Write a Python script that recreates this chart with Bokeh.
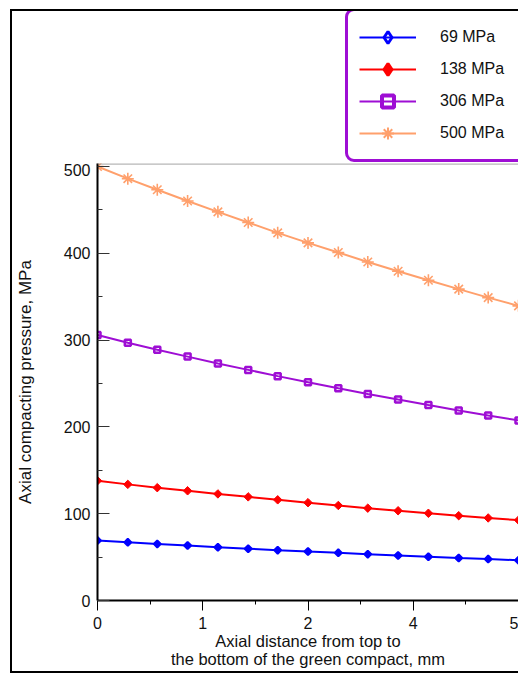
import math
from bokeh.plotting import figure
from bokeh.layouts import column, row
from bokeh.models import Range1d, FixedTicker, Legend, LegendItem, Span, Spacer
from bokeh.embed import file_html
from bokeh.resources import INLINE

# ---- data ----
distance_mm = [0.0, 0.36, 0.71, 1.07, 1.43, 1.79, 2.14, 2.5, 2.86, 3.21, 3.57, 3.93, 4.29, 4.64, 5.0]
p_69 = [69.0, 67.0, 65.2, 63.3, 61.4, 59.7, 58.0, 56.4, 54.9, 53.4, 51.9, 50.4, 49.0, 47.7, 46.4]
p_138 = [138.0, 133.8, 130.0, 126.4, 122.8, 119.4, 116.0, 112.7, 109.5, 106.4, 103.4, 100.5, 97.7, 95.1, 92.6]
p_306 = [306.0, 297.0, 289.0, 281.0, 273.0, 265.7, 258.5, 251.5, 244.5, 238.0, 231.5, 225.2, 219.0, 213.2, 207.5]
p_500 = [500.0, 486.0, 473.2, 460.3, 447.8, 435.5, 423.6, 412.0, 401.0, 390.0, 379.3, 369.0, 358.8, 349.0, 339.5]
series_labels = ["69 MPa", "138 MPa", "306 MPa", "500 MPa"]
x_tick_values = [0, 1.25, 2.5, 3.75, 5]
x_tick_labels = ["0", "1", "2", "4", "5"]
x_minor_values = [0.625, 1.875, 3.125, 4.375]
y_tick_values = [0, 100, 200, 300, 400, 500]
y_minor_values = [50, 150, 250, 350, 450]
y_axis_top = 503

FONT = "Liberation Sans"
BLUE = "#0000FF"
RED = "#FF0000"
PURPLE = "#9E0ED4"
ORANGE = "#FFA06C"

W = 506
H_LEG = 152     # strip above the plot box holding the legend
H_MAIN = 508    # plot box plus axes

# ---------------- main chart ----------------
p = figure(width=W, height=H_MAIN, output_backend="svg", toolbar_location=None,
           x_range=Range1d(0, 5), y_range=Range1d(0, y_axis_top + 0.5),
           min_border_left=81, min_border_right=0, min_border_top=0, min_border_bottom=69,
           background_fill_color="white", border_fill_color="white")
p.outline_line_color = None
p.xgrid.visible = False
p.ygrid.visible = False
p.add_layout(Span(location=y_axis_top, dimension="width", line_color="#7f7f7f", line_width=1))

p.line(distance_mm, p_69, line_color=BLUE, line_width=2)
p.scatter(distance_mm, p_69, marker="square", angle=math.pi / 4, size=5, line_color=BLUE,
          fill_color=BLUE, line_width=2)
p.line(distance_mm, p_138, line_color=RED, line_width=2)
p.scatter(distance_mm, p_138, marker="square", angle=math.pi / 4, size=6, line_color=RED,
          fill_color=RED, line_width=1)
p.line(distance_mm, p_306, line_color=PURPLE, line_width=2)
p.scatter(distance_mm, p_306, marker="square", size=6, line_color=PURPLE,
          fill_color=None, line_width=2.5)
p.line(distance_mm, p_500, line_color=ORANGE, line_width=2)
p.scatter(distance_mm, p_500, marker="asterisk", size=12, line_color=ORANGE, line_width=1.6)

yax = p.yaxis[0]
yax.ticker = FixedTicker(ticks=y_tick_values, minor_ticks=y_minor_values)
yax.major_tick_in = 12
yax.major_tick_out = 0
yax.minor_tick_in = 5
yax.minor_tick_out = 0
yax.major_tick_line_color = "#333333"
yax.minor_tick_line_color = "#333333"
yax.axis_line_color = "black"
yax.axis_line_width = 2
yax.major_label_text_font = FONT
yax.major_label_text_font_size = "16px"
yax.major_label_text_color = "#111111"
yax.major_label_standoff = 7
yax.axis_label = "Axial compacting pressure, MPa"
yax.axis_label_text_font = FONT
yax.axis_label_text_font_size = "17px"
yax.axis_label_text_font_style = "normal"
yax.axis_label_text_color = "#111111"
yax.axis_label_standoff = 26

xax = p.xaxis[0]
xax.ticker = FixedTicker(ticks=x_tick_values, minor_ticks=x_minor_values)
xax.major_label_overrides = {v: t for v, t in zip(x_tick_values, x_tick_labels)}
xax.major_tick_in = 0
xax.major_tick_out = 10
xax.minor_tick_in = 0
xax.minor_tick_out = 4
xax.major_tick_line_color = "black"
xax.minor_tick_line_color = "black"
xax.major_tick_line_width = 1
xax.minor_tick_line_width = 1
xax.axis_line_color = "black"
xax.axis_line_width = 2
xax.major_label_text_font = FONT
xax.major_label_text_font_size = "16px"
xax.major_label_text_color = "#111111"
xax.major_label_standoff = 6
xax.axis_label = "Axial distance from top to\nthe bottom of the green compact, mm"
xax.axis_label_text_font = FONT
xax.axis_label_text_font_size = "16.5px"
xax.axis_label_text_font_style = "normal"
xax.axis_label_text_color = "#111111"
xax.axis_label_text_line_height = 1.05
xax.axis_label_standoff = 0

# ---------------- legend strip ----------------
lf = figure(width=W, height=H_LEG, output_backend="svg", toolbar_location=None,
            x_range=Range1d(0, 5), y_range=Range1d(1000, 1100),
            x_axis_location=None, y_axis_location=None,
            min_border_left=0, min_border_right=0, min_border_top=0, min_border_bottom=0,
            background_fill_color="white", border_fill_color="white")
lf.outline_line_color = None
lf.grid.visible = False

# legend samples: same series, drawn in a range that keeps them out of view
g69 = [lf.line(distance_mm, p_69, line_color=BLUE, line_width=2),
       lf.scatter(distance_mm, p_69, marker="diamond", size=17,
                  line_color=BLUE, fill_color=None, line_width=3)]
g138 = [lf.line(distance_mm, p_138, line_color=RED, line_width=2),
        lf.scatter(distance_mm, p_138, marker="diamond", size=19,
                   line_color=RED, fill_color=RED, line_width=3)]
g306 = [lf.line(distance_mm, p_306, line_color=PURPLE, line_width=2),
        lf.scatter(distance_mm, p_306, marker="square", size=14, line_color=PURPLE,
                   fill_color=None, line_width=4)]
g500 = [lf.line(distance_mm, p_500, line_color=ORANGE, line_width=2),
        lf.scatter(distance_mm, p_500, marker="asterisk", size=17, line_color=ORANGE,
                   line_width=2)]

items = [LegendItem(label=lab, renderers=rs)
         for lab, rs in zip(series_labels, [g69, g138, g306, g500])]
legend_kw = dict(items=items, location=(248, 1), orientation="vertical",
                 border_line_color=PURPLE, border_line_width=3, border_line_alpha=1,
                 background_fill_color="white", background_fill_alpha=1,
                 glyph_width=57, glyph_height=30, label_height=20, label_width=110,
                 label_standoff=24, padding=11, spacing=2, margin=0,
                 label_text_font=FONT, label_text_font_size="16px", label_text_color="#111111")
if "border_radius" in Legend.properties():
    legend_kw["border_radius"] = 9
lf.add_layout(Legend(**legend_kw), "center")

# ---------------- page with outer frame ----------------
top_line = Spacer(width=W + 2, height=2, styles={"background-color": "black"})
left_line = Spacer(width=2, height=H_LEG + H_MAIN, styles={"background-color": "black"})
bottom_line = Spacer(width=W + 2, height=2, styles={"background-color": "black"})
framed = column(top_line, row(left_line, column(lf, p, spacing=0), spacing=0), bottom_line, spacing=0)
page = column(Spacer(height=9), row(Spacer(width=10), framed, spacing=0), spacing=0)

open("out.html", "w").write(file_html(page, INLINE))
